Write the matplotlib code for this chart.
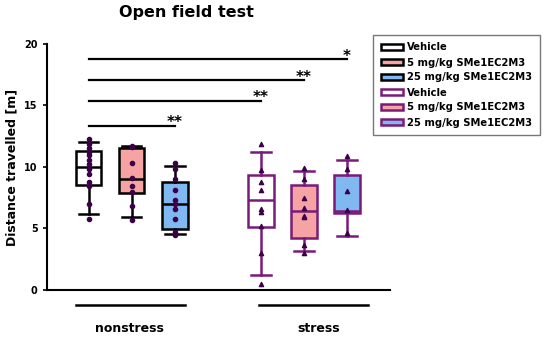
import matplotlib
matplotlib.use("Agg")
import matplotlib.pyplot as plt
from matplotlib.patches import Patch

# grupos e estatisticas das caixas
grupos = ["Vehicle", "5 mg/kg SMe1EC2M3", "25 mg/kg SMe1EC2M3",
          "Vehicle", "5 mg/kg SMe1EC2M3", "25 mg/kg SMe1EC2M3"]
posicoes = [1, 2, 3, 5, 6, 7]
q1 = [8.53, 7.85, 4.95, 5.13, 4.21, 6.25]
mediana = [10.0, 9.05, 6.98, 7.28, 6.38, 6.45]
q3 = [11.27, 11.52, 8.75, 9.35, 8.5, 9.35]
bigode_inf = [6.17, 5.95, 4.59, 1.25, 3.15, 4.35]
bigode_sup = [12.06, 11.7, 10.05, 11.22, 9.64, 10.57]

pontos = [
    [12.3, 11.84, 11.57, 11.25, 10.97, 10.6, 10.27, 9.83, 9.45, 8.8, 8.42, 6.95, 5.81],
    [11.73, 11.6, 10.3, 9.1, 8.42, 7.93, 6.85, 5.7],
    [10.3, 9.8, 9.05, 8.15, 7.35, 7.0, 6.6, 5.8, 4.75, 4.5],
    [11.9, 9.72, 8.75, 8.1, 6.58, 6.3, 5.17, 3.04, 0.5],
    [9.89, 9.05, 7.5, 6.65, 5.98, 5.9, 3.66, 2.98],
    [10.89, 9.83, 8.07, 6.52, 4.6],
]

cores = ["white", "#F5A3A3", "#80B8F2", "white", "#F5A3A3", "#80B8F2"]
bordas = ["black", "black", "black", "#7A1A7A", "#7A1A7A", "#7A1A7A"]
marcadores = ["o", "o", "o", "^", "^", "^"]

# linhas de significancia: (x1, x2, y, texto)
sig_x1 = [1, 1, 1, 1]
sig_x2 = [7, 6, 5, 3]
sig_y = [18.75, 17.03, 15.35, 13.34]
sig_txt = ["*", "**", "**", "**"]

fig = plt.figure(figsize=(5.5, 3.4), dpi=100)
ax = fig.add_axes([0.085, 0.147, 0.624, 0.724])

for i in range(len(posicoes)):
    stats = [{"med": mediana[i], "q1": q1[i], "q3": q3[i],
              "whislo": bigode_inf[i], "whishi": bigode_sup[i], "fliers": []}]
    c = bordas[i]
    ax.bxp(stats, positions=[posicoes[i]], widths=0.6, capwidths=0.46,
           showfliers=False, patch_artist=True,
           boxprops=dict(facecolor=cores[i], edgecolor=c, linewidth=1.8),
           medianprops=dict(color=c, linewidth=1.8),
           whiskerprops=dict(color=c, linewidth=1.8),
           capprops=dict(color=c, linewidth=1.8))
    ax.scatter([posicoes[i]] * len(pontos[i]), pontos[i], s=9,
               marker=marcadores[i], color="#3D0048", zorder=5)

for x1, x2, y, t in zip(sig_x1, sig_x2, sig_y, sig_txt):
    ax.plot([x1, x2], [y, y], color="black", linewidth=1.6, clip_on=False)
    ax.text(x2, y - 0.35, t, ha="center", va="bottom", fontsize=11,
            fontweight="bold")

ax.set_xlim(0.03, 8.0)
ax.set_ylim(0, 20)
ax.set_yticks([0, 5, 10, 15, 20])
ax.set_xticks([])
ax.tick_params(axis="y", labelsize=7, length=3, width=1.2)
for lbl in ax.get_yticklabels():
    lbl.set_fontweight("bold")
ax.spines["top"].set_visible(False)
ax.spines["right"].set_visible(False)
ax.spines["left"].set_linewidth(1.5)
ax.spines["bottom"].set_linewidth(1.5)
ax.set_ylabel("Distance travelled [m]", fontsize=9, fontweight="bold")

fig.text(186 / 550, 1 - 13 / 340, "Open field test", ha="center",
         va="center", fontsize=11.5, fontweight="bold")

# linhas dos grupos embaixo
ax.plot([0.7, 3.25], [-1.2, -1.2], color="black", linewidth=1.8, clip_on=False)
ax.plot([4.95, 7.5], [-1.2, -1.2], color="black", linewidth=1.8, clip_on=False)
ax.text(1.95, -3.1, "nonstress", ha="center", va="center", fontsize=9,
        fontweight="bold")
ax.text(6.35, -3.1, "stress", ha="center", va="center", fontsize=9,
        fontweight="bold")

handles = [Patch(facecolor=cores[i], edgecolor=bordas[i], linewidth=1.8)
           for i in range(len(grupos))]
leg = fig.legend(handles, grupos, loc="upper left",
                 bbox_to_anchor=(373 / 550, 1 - 35 / 340), frameon=True,
                 fancybox=False, handlelength=2.2, handleheight=0.6,
                 labelspacing=0.5, borderpad=0.75, handletextpad=0.45,
                 borderaxespad=0,
                 prop={"weight": "bold", "size": 7.2})
leg.get_frame().set_edgecolor("#555555")
leg.get_frame().set_linewidth(1.0)

fig.savefig("out.png", dpi=100)
